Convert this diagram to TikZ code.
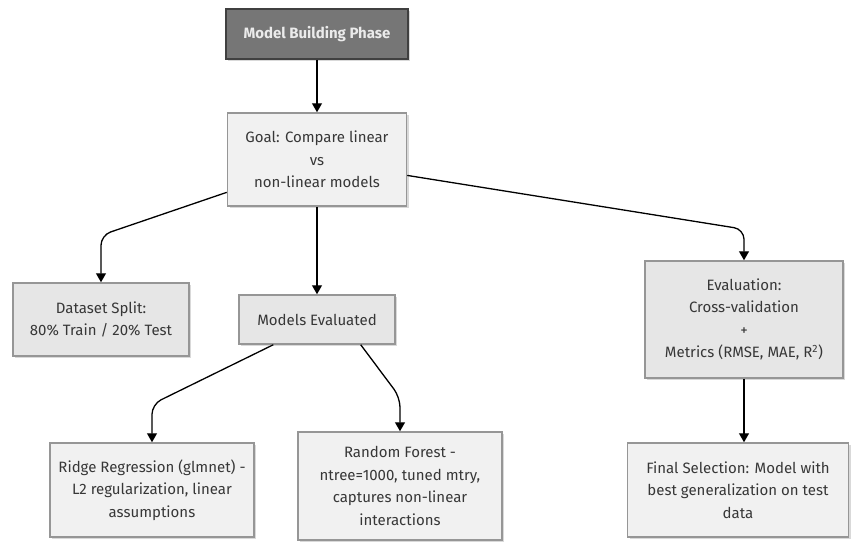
\documentclass[tikz,border=0pt]{standalone}
\usepackage{fontspec}
\setmainfont{Fira Sans}
\usetikzlibrary{arrows.meta, positioning, shadows}
\definecolor{phasegray}{RGB}{118,118,118}
\definecolor{boxlight}{RGB}{241,241,241}
\definecolor{boxmid}{RGB}{230,230,230}
\definecolor{edgegray}{RGB}{150,150,150}
\definecolor{txtgray}{RGB}{55,55,55}

\begin{document}
\begin{tikzpicture}[
    x=1pt, y=-1pt,
    font=\fontsize{15}{22.5}\selectfont,
    box/.style={rectangle, draw=edgegray, line width=1.5pt, fill=boxlight, text=txtgray, align=center, inner sep=0pt,
        drop shadow={shadow xshift=2pt, shadow yshift=-2pt, opacity=0.15, fill=black}},
    phase/.style={box, draw=black!75, fill=phasegray, text=white!92!black, font=\fontsize{15}{22.5}\selectfont\bfseries},
    arrow/.style={line width=1.3pt, -{Triangle[length=9pt, width=10pt]}, rounded corners=10pt}
]
\useasboundingbox (0,0) rectangle (851,544);

% Phase
\node[phase, minimum width=182pt, minimum height=50pt] (phase) at (317,34) {Model Building Phase};

% Goal
\node[box, minimum width=179pt, minimum height=93pt] (goal) at (317,159.5) {Goal: Compare linear\\vs\\non-linear models};

% Second row
\node[box, fill=boxmid, minimum width=176pt, minimum height=73pt] (split) at (101,319.5) {Dataset Split:\\80\% Train / 20\% Test};
\node[box, fill=boxmid, minimum width=156pt, minimum height=49pt] (models) at (317,319.5) {Models Evaluated};
\node[box, fill=boxmid, minimum width=198pt, minimum height=117pt] (evalbox) at (744,319.5) {Evaluation:\\Cross-validation\\+\\Metrics (RMSE, MAE, R\textsuperscript{2})};

% Bottom row
\node[box, minimum width=204pt, minimum height=94pt] (ridge) at (152,490) {Ridge Regression (glmnet) -\\L2 regularization, linear\\assumptions};
\node[box, minimum width=204pt, minimum height=108pt] (forest) at (400,486) {Random Forest -\\ntree=1000, tuned mtry,\\captures non-linear\\interactions};
\node[box, minimum width=221pt, minimum height=94pt] (final) at (738,490) {Final Selection: Model with\\best generalization on test\\data};

% Arrows
\draw[arrow] (phase) -- (goal);
\draw[arrow] (goal) -- (models);
\draw[arrow] (goal.200) -- ([yshift=47pt]split.north) -- (split.north);
\draw[arrow] (goal.350) -- ([yshift=31pt]evalbox.north) -- (evalbox.north);
\draw[arrow] (models.210) -- ([yshift=38pt]ridge.north) -- (ridge.north);
\draw[arrow] (models.330) -- ([yshift=34pt]forest.north) -- (forest.north);
\draw[arrow] (evalbox.south) -- (evalbox.south |- final.north);

\end{tikzpicture}
\end{document}
